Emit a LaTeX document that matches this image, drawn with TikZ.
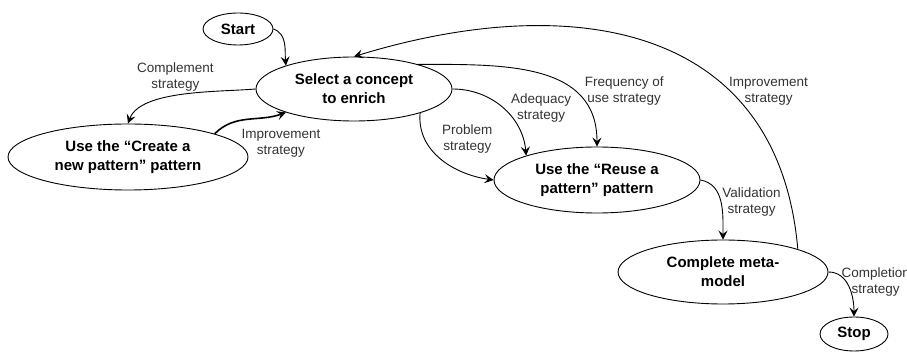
\documentclass[tikz,border=0pt]{standalone}
\usepackage{fontspec}
\setmainfont{Liberation Sans}
\usetikzlibrary{positioning,shapes.geometric,arrows.meta}

\begin{document}
\begin{tikzpicture}[x=1pt, y=1pt, on grid, state/.style={ellipse, draw, line width=0.9pt, inner sep=0pt, align=center, font=\fontsize{15}{19}\selectfont\bfseries}, strat/.style={align=center, inner sep=1pt, text=black!80, font=\fontsize{13.5}{16}\selectfont}, flow/.style={line width=0.9pt, -{Stealth[length=9pt, width=9pt, inset=3.5pt]}}]

  \useasboundingbox (0,0) rectangle (907,-352);

  \node[state, minimum width=196pt, minimum height=64pt] (select) at (354,-89) {Select a concept\\to enrich};
  \node[state, minimum width=70pt, minimum height=32pt, above left=60pt and 116pt of select] (start) {Start};
  \node[state, minimum width=240pt, minimum height=66pt, below left=68pt and 226pt of select] (create) {Use the “Create a\\new pattern” pattern};
  \node[state, minimum width=206pt, minimum height=66pt, below right=91pt and 243pt of select] (reuse) {Use the “Reuse a\\pattern” pattern};
  \node[state, minimum width=210pt, minimum height=64pt, below right=92pt and 126pt of reuse] (complete) {Complete meta-\\model};
  \node[state, minimum width=68pt, minimum height=34pt, below right=62pt and 131pt of complete] (stop) {Stop};

  \draw[flow] (start.east) to[out=-20, in=95] (select.161);
  \draw[flow] (select.west) to[out=185, in=70, looseness=0.7] node[strat, above=3pt, pos=0.55] (complstrat) {Complement\\strategy} (create.north);
  \draw[flow, line width=1.6pt] (create.15) to[out=45, in=200] node[strat, below=12pt, pos=0.85, xshift=7pt] (improvstrat1) {Improvement\\strategy} (select.199);
  \draw[flow] (select.340) to[out=-95, in=172] node[strat, right=16pt, pos=0.25] (probstrat) {Problem\\strategy} (reuse.west);
  \draw[flow] (select.east) to[out=0, in=95] node[strat, right=7pt, pos=0.5] (adeqstrat) {Adequacy\\strategy} (reuse.161);
  \draw[flow] (select.21) to[out=0, in=90, looseness=1.1] node[strat, right=9pt, pos=0.7] (freqstrat) {Frequency of\\use strategy} (reuse.north);
  \draw[flow] (complete.17) to[out=95, in=17, looseness=1.2] node[strat, right=-3pt, pos=0.31] (improvstrat2) {Improvement\\strategy} (select.north);
  \draw[flow] (reuse.east) to[out=-10, in=90] node[strat, right, pos=0.5] (validstrat) {Validation\\strategy} (complete.north);
  \draw[flow] (complete.east) to[out=0, in=90] node[strat, right=-6pt, pos=0.4] (complstrat2) {Completion\\strategy} (stop.north);
\end{tikzpicture}
\end{document}
